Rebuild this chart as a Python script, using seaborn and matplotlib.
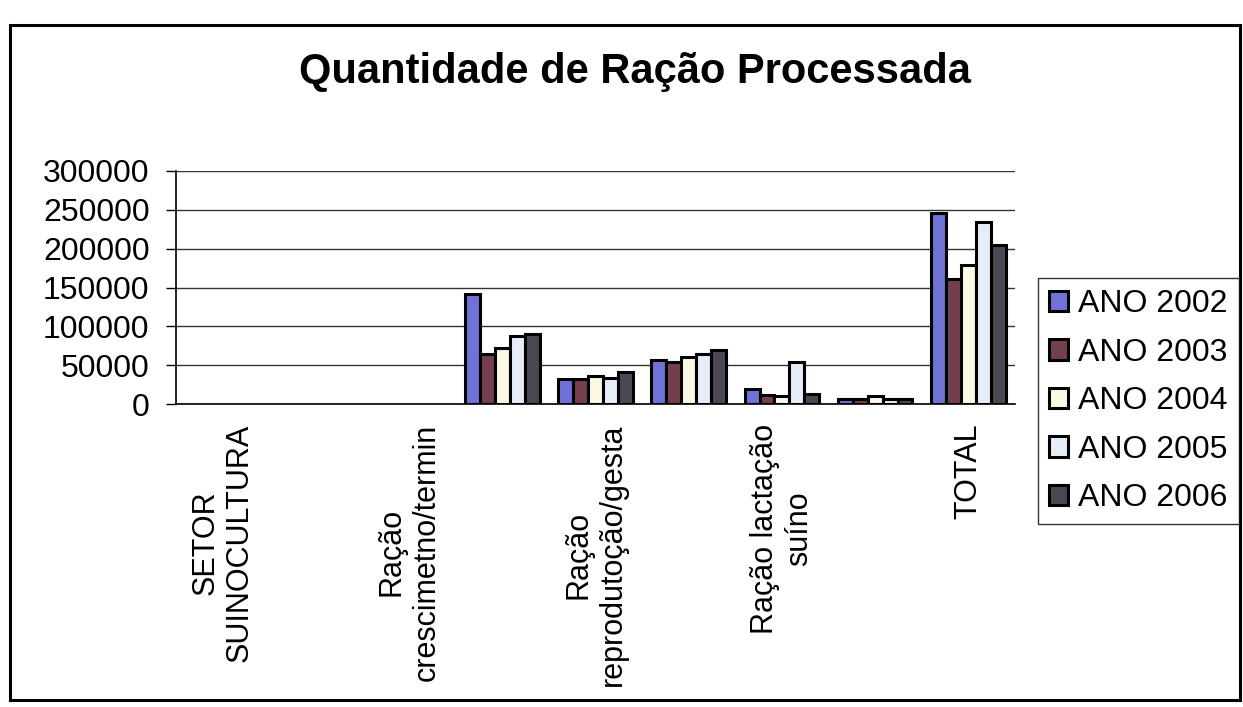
import numpy as np
import pandas as pd
import matplotlib
matplotlib.use("Agg")
import matplotlib.pyplot as plt
import matplotlib.patches as mpatches
import seaborn as sns

# ---- data ----
slot_labels = ["SETOR\nSUINOCULTURA", "", "Ração\ncrescimetno/termin", "",
               "Ração\nreprodutoção/gesta", "", "Ração lactação\nsuíno", "", "TOTAL"]
years = ["ANO 2002", "ANO 2003", "ANO 2004", "ANO 2005", "ANO 2006"]
nan = np.nan
ano_2002 = [nan, nan, nan, 142000, 32000, 57000, 19000, 7000, 246000]
ano_2003 = [nan, nan, nan, 65000, 32000, 54000, 11000, 7000, 161000]
ano_2004 = [nan, nan, nan, 72000, 36000, 60000, 10000, 10500, 179000]
ano_2005 = [nan, nan, nan, 88000, 33000, 64500, 54000, 6000, 234000]
ano_2006 = [nan, nan, nan, 90000, 41000, 70000, 13000, 6000, 205000]
series = [ano_2002, ano_2003, ano_2004, ano_2005, ano_2006]
yticks = [0, 50000, 100000, 150000, 200000, 250000, 300000]
colors = ["#6f72d6", "#743f4c", "#fbf9e4", "#e4edf8", "#4b4854"]

rows = []
for yname, vals in zip(years, series):
    for i, v in enumerate(vals):
        rows.append({"slot": i, "ano": yname, "valor": v})
df = pd.DataFrame(rows)

sns.set_style("white")
plt.rcParams["font.family"] = ["Liberation Sans", "DejaVu Sans"]
plt.rcParams["text.color"] = "black"
plt.rcParams["xtick.color"] = "black"
plt.rcParams["ytick.color"] = "black"
plt.rcParams["xtick.labelcolor"] = "black"
plt.rcParams["ytick.labelcolor"] = "black"

W, H = 1243, 707
fig = plt.figure(figsize=(W / 100, H / 100), dpi=100)
ax = fig.add_axes([176 / W, 1 - 404 / H, (1015 - 176) / W, (404 - 171) / H])

sns.barplot(data=df, x="slot", y="valor", hue="ano", order=list(range(9)),
            hue_order=years, palette=colors, saturation=1, edgecolor="black",
            linewidth=2.2, width=0.8, errorbar=None, ax=ax, legend=True)

ax.set_ylim(0, 300000)
ax.set_xlim(-0.5, 8.5)
ax.set_yticks(yticks)
ax.set_yticklabels([str(v) for v in yticks], fontsize=23)
ax.yaxis.grid(True, color="#333333", linewidth=1)
ax.xaxis.grid(False)
ax.set_axisbelow(True)

ax.set_xticks(np.arange(-0.5, 9, 1))
ax.set_xticklabels([""] * 10)
ax.tick_params(axis="x", which="major", direction="out", length=7, width=1, color="black")
ax.set_xticks(np.arange(9), minor=True)
ax.set_xticklabels(slot_labels, minor=True, rotation=90, fontsize=22,
                   va="top", ha="center", multialignment="center")
ax.tick_params(axis="x", which="minor", length=0, pad=14)
ax.tick_params(axis="y", direction="out", length=7, width=1, color="black", pad=12, left=True)

for s in ["top", "right"]:
    ax.spines[s].set_visible(False)
for s in ["left", "bottom"]:
    ax.spines[s].set_color("black")
    ax.spines[s].set_linewidth(1.2)
ax.set_xlabel("")
ax.set_ylabel("")

leg = ax.get_legend()
handles = leg.legend_handles
leg.remove()
fig.legend(handles, years, loc="upper left", bbox_to_anchor=(1038 / W, 1 - 278 / H),
           fontsize=23, frameon=True, fancybox=False, edgecolor="black",
           handlelength=0.6, handleheight=0.6, handletextpad=0.3,
           labelspacing=0.58, borderpad=0.35, borderaxespad=0, labelcolor="black")

fig.text(635 / W, 1 - 72 / H, "Quantidade de Ração Processada", fontsize=30,
         fontweight="bold", ha="center", va="center", color="black")

fig.patches.append(mpatches.Rectangle((10 / W, 1 - 700 / H), 1230 / W, 675 / H,
                                      transform=fig.transFigure, fill=False,
                                      edgecolor="black", linewidth=2.2))

fig.savefig("out.png", dpi=100, facecolor="white")
